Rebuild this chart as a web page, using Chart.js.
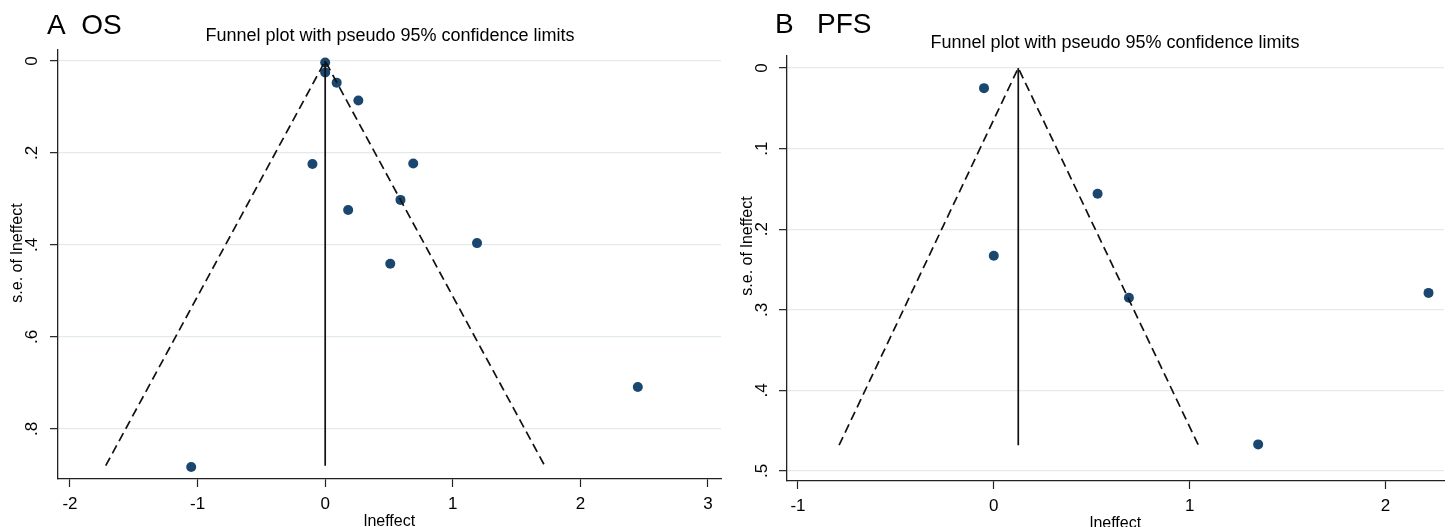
<!DOCTYPE html>
<html>
<head>
<meta charset="utf-8">
<script src="https://cdn.jsdelivr.net/npm/chart.js@4.4.0/dist/chart.umd.min.js"></script>
<style>
  html, body { margin: 0; padding: 0; background: #fff; }
  body { width: 1449px; height: 527px; position: relative; overflow: hidden; }
  .wrap { position: absolute; top: 0; height: 527px; }
  #w1 { left: 0; width: 726px; }
  #w2 { left: 730px; width: 719px; }
</style>
</head>
<body>
<div class="wrap" id="w1"><canvas id="c1"></canvas></div>
<div class="wrap" id="w2"><canvas id="c2"></canvas></div>
<script>
// ---- Panel A: OS ----
const osEffect = [0.00, 0.00, 0.09, 0.26, -0.10, 0.69, 0.18, 0.59, 1.19, 0.51, 2.45, -1.05];
const osSE     = [0.003, 0.025, 0.047, 0.086, 0.224, 0.223, 0.324, 0.302, 0.396, 0.441, 0.709, 0.883];
const osFunnelX  = [-1.72, 0.00, 1.72];
const osFunnelSE = [0.88, 0.00, 0.88];
const osPooledX  = [0.00, 0.00];
const osPooledSE = [0.00, 0.88];
const osXTicks = [-2, -1, 0, 1, 2, 3];
const osXTickLabels = ['-2', '-1', '0', '1', '2', '3'];
const osYTicks = [0, 0.2, 0.4, 0.6, 0.8];
const osYTickLabels = ['0', '.2', '.4', '.6', '.8'];

// ---- Panel B: PFS ----
const pfsEffect = [-0.05, 0.53, 0.00, 0.69, 1.35, 2.22];
const pfsSE     = [0.025, 0.156, 0.233, 0.285, 0.467, 0.279];
const pfsFunnelX  = [-0.79, 0.125, 1.045];
const pfsFunnelSE = [0.468, 0.00, 0.468];
const pfsPooledX  = [0.125, 0.125];
const pfsPooledSE = [0.00, 0.468];
const pfsXTicks = [-1, 0, 1, 2];
const pfsXTickLabels = ['-1', '0', '1', '2'];
const pfsYTicks = [0, 0.1, 0.2, 0.3, 0.4, 0.5];
const pfsYTickLabels = ['0', '.1', '.2', '.3', '.4', '.5'];

const FONT = '"Liberation Sans", Arial, sans-serif';
const DOT = '#1a476f';

function pts(xs, ys) { return xs.map((x, i) => ({ x: x, y: ys[i] })); }

const textPlugin = {
  id: 'stataText',
  afterDraw(chart) {
    const o = chart.options.plugins.stataText;
    const ctx = chart.ctx;
    const xs = chart.scales.x, ys = chart.scales.y;
    ctx.save();
    ctx.fillStyle = '#000';
    ctx.font = '17px ' + FONT;
    ctx.textAlign = 'center';
    ctx.textBaseline = 'alphabetic';
    o.yTicks.forEach((v, i) => {
      const y = ys.getPixelForValue(v);
      ctx.save();
      ctx.translate(o.yLabelX, y);
      ctx.rotate(-Math.PI / 2);
      ctx.fillText(o.yLabels[i], 0, 0);
      ctx.restore();
    });
    o.xTicks.forEach((v, i) => {
      const x = xs.getPixelForValue(v);
      ctx.fillText(o.xLabels[i], x, o.xLabelY);
    });
    ctx.font = '16px ' + FONT;
    ctx.fillText('lneffect', (chart.chartArea.left + chart.chartArea.right) / 2, o.xTitleY);
    ctx.save();
    ctx.translate(o.yTitleX, o.yTitleY);
    ctx.rotate(-Math.PI / 2);
    ctx.fillText('s.e. of lneffect', 0, 0);
    ctx.restore();
    ctx.font = '18px ' + FONT;
    ctx.fillText('Funnel plot with pseudo 95% confidence limits', o.titleX, o.titleY);
    ctx.font = '28px ' + FONT;
    ctx.textAlign = 'left';
    ctx.fillText(o.heading, o.headX, o.headY);
    ctx.restore();
  }
};

function makeChart(id, cfg) {
  const datasets = [
    { type: 'line', data: pts(cfg.funnelX, cfg.funnelSE), borderColor: '#111', borderWidth: 1.7,
      borderDash: [9, 5], pointRadius: 0, fill: false, tension: 0, order: 1 },
    { type: 'line', data: pts(cfg.pooledX, cfg.pooledSE), borderColor: '#111', borderWidth: 1.7,
      pointRadius: 0, fill: false, tension: 0, order: 1 },
    { type: 'scatter', data: pts(cfg.effect, cfg.se), backgroundColor: DOT, borderColor: DOT,
      pointRadius: 5, pointBorderWidth: 0, order: 2 }
  ];
  return new Chart(document.getElementById(id), {
    type: 'scatter',
    data: { datasets: datasets },
    options: {
      responsive: true,
      maintainAspectRatio: false,
      animation: false,
      events: [],
      layout: { padding: { top: cfg.padTop, right: cfg.padRight, left: 0, bottom: 0 } },
      plugins: {
        legend: { display: false },
        tooltip: { enabled: false },
        stataText: cfg.text
      },
      scales: {
        x: {
          type: 'linear', min: cfg.xMin, max: cfg.xMax,
          afterBuildTicks: s => { s.ticks = cfg.xTicks.map(v => ({ value: v })); },
          afterFit: s => { s.height = cfg.xAxisH; },
          ticks: { display: false },
          grid: { drawOnChartArea: false, drawTicks: true, tickLength: 8, tickColor: '#222', tickWidth: 1.2 },
          border: { display: true, color: '#222', width: 1.3 }
        },
        y: {
          type: 'linear', reverse: true, min: cfg.yMin, max: cfg.yMax,
          afterBuildTicks: s => { s.ticks = cfg.yTicks.map(v => ({ value: v })); },
          afterFit: s => { s.width = cfg.yAxisW; },
          ticks: { display: false },
          grid: { drawOnChartArea: true, color: '#e2eaee', lineWidth: 1.3, drawTicks: true, tickLength: 8, tickColor: '#222', tickWidth: 1.2 },
          border: { display: true, color: '#222', width: 1.3 }
        }
      }
    },
    plugins: [textPlugin]
  });
}

makeChart('c1', {
  effect: osEffect, se: osSE, funnelX: osFunnelX, funnelSE: osFunnelSE,
  pooledX: osPooledX, pooledSE: osPooledSE,
  xTicks: osXTicks, yTicks: osYTicks,
  xMin: -2.094, xMax: 3.102, yMin: -0.024, yMax: 0.909,
  padTop: 50, padRight: 4, xAxisH: 48, yAxisW: 58,
  text: {
    yTicks: osYTicks, yLabels: osYTickLabels, xTicks: osXTicks, xLabels: osXTickLabels,
    yLabelX: 37, xLabelY: 509, xTitleY: 526, yTitleX: 22, yTitleY: 253,
    titleX: 390, titleY: 41, heading: 'A  OS', headX: 47, headY: 34
  }
});

makeChart('c2', {
  effect: pfsEffect, se: pfsSE, funnelX: pfsFunnelX, funnelSE: pfsFunnelSE,
  pooledX: pfsPooledX, pooledSE: pfsPooledSE,
  xTicks: pfsXTicks, yTicks: pfsYTicks,
  xMin: -1.056, xMax: 2.299, yMin: -0.0149, yMax: 0.5124,
  padTop: 56, padRight: 0, xAxisH: 46, yAxisW: 57,
  text: {
    yTicks: pfsYTicks, yLabels: pfsYTickLabels, xTicks: pfsXTicks, xLabels: pfsXTickLabels,
    yLabelX: 37, xLabelY: 511, xTitleY: 528, yTitleX: 22, yTitleY: 246,
    titleX: 385, titleY: 48, heading: 'B   PFS', headX: 45, headY: 33
  }
});
</script>
</body>
</html>
